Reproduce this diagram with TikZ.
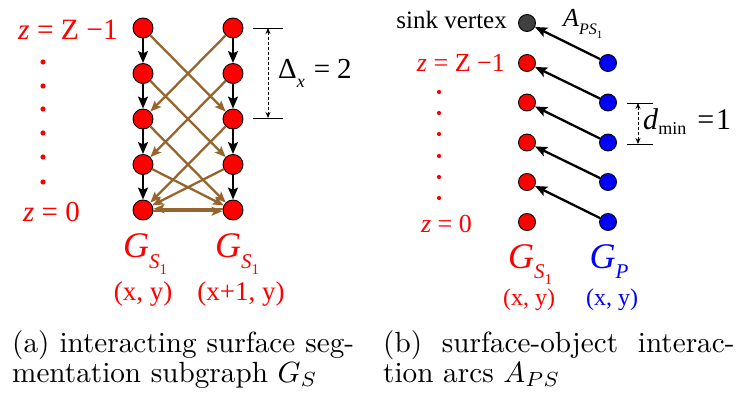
\documentclass[tikz,border=0pt]{standalone}
\usepackage{fontspec}
\newfontfamily\tms{Liberation Serif}
\usetikzlibrary{arrows.meta}
\definecolor{brn}{RGB}{150,100,45}
\definecolor{sinkc}{RGB}{64,64,64}
\newcommand{\fs}[1]{\fontsize{#1}{#1}\selectfont}
\newcommand{\capln}[2]{\scalebox{2.92}{\fontsize{10}{12}\selectfont\makebox[#1][s]{#2}}}
\newcommand{\capnat}[1]{\scalebox{2.92}{\fontsize{10}{12}\selectfont #1}}
\begin{document}
\begin{tikzpicture}[x=1pt,y=-1pt,
  vbig/.style={circle,draw=black,fill=red,line width=0.9pt,minimum size=20pt,inner sep=0pt},
  vsm/.style={circle,draw=black,fill=red,line width=0.9pt,minimum size=17pt,inner sep=0pt},
  vblue/.style={vsm,fill=blue},
  vsink/.style={vsm,fill=sinkc},
  blk/.style={draw=black,line width=2.3pt,-{Stealth[length=12pt,width=10pt,inset=2.5pt]}},
  brw/.style={draw=brn,line width=2.3pt,-{Stealth[length=11pt,width=9pt,inset=2.5pt]}},
  dimln/.style={draw=black,line width=0.9pt},
  dimarr/.style={draw=black,line width=0.8pt,dashed,dash pattern=on 3pt off 2pt,{Stealth[length=6pt,width=5pt]}-{Stealth[length=6pt,width=5pt]}},
  lbl/.style={inner sep=0pt,font=\tms},
  capn/.style={inner sep=0pt,anchor=base west},
  rdot/.style={fill=red}]
\useasboundingbox (0,0) rectangle (736,398);

% ---------- panel (a) ----------
\foreach \i/\yy in {0/28,1/73.5,2/119,3/164.5,4/210}{
  \node[vbig] (L\i) at (143,\yy) {};
  \node[vbig] (R\i) at (233,\yy) {};
}
\foreach \i/\j in {0/1,1/2,2/3,3/4}{
  \draw[blk] (L\i) -- (L\j);
  \draw[blk] (R\i) -- (R\j);
}
\foreach \i/\j in {0/2,1/3,2/4,3/4}{
  \draw[brw] (L\i) -- (R\j);
  \draw[brw] (R\i) -- (L\j);
}
\draw[brw] ([yshift=-1.2pt]L4.east) -- ([yshift=-1.2pt]R4.west);
\draw[brw] ([yshift=1.2pt]R4.west) -- ([yshift=1.2pt]L4.east);

\node[lbl,red,anchor=base east] (za) at (118,40) {\fs{29.5}\textit{z} = Z −1};
\node[lbl,red,anchor=base east] (z0a) at (80,222) {\fs{29}\textit{z} = 0};
\foreach \yy in {62,86,109,133,157,182}{\fill[rdot] (43,\yy) circle (2.6);}

\coordinate (ta1) at (253,28); \coordinate (ta2) at (283,28);
\coordinate (tb1) at (253,118); \coordinate (tb2) at (283,118);
\draw[dimln] (ta1) -- (ta2);
\draw[dimln] (tb1) -- (tb2);
\coordinate (da) at (268,28); \coordinate (db) at (268,118);
\draw[dimarr] (da) -- (db);
\node[lbl,anchor=base west] (dx) at (278,79) {\fs{29}Δ\raisebox{-0.3em}{\fs{18}\textit{x}}\hspace{9pt}=\hspace{7pt}2};

\node[lbl,red,anchor=base] (ga1) at (145,258) {\fs{36}\textit{G}\raisebox{-0.3em}{\fs{21}\textit{S}\raisebox{-0.25em}{\fs{15}1}}};
\node[lbl,red,anchor=base] (ga2) at (237,258) {\fs{36}\textit{G}\raisebox{-0.3em}{\fs{21}\textit{S}\raisebox{-0.25em}{\fs{15}1}}};
\node[lbl,red,anchor=base] (xa1) at (143,300) {\fs{27}(x, y)};
\node[lbl,red,anchor=base] (xa2) at (241,300) {\fs{27}(x+1, y)};

% ---------- panel (b) ----------
\node[vsink] (S) at (527,23) {};
\foreach \i/\yy in {0/63,1/102.5,2/142.5,3/182,4/222}{
  \node[vsm] (Q\i) at (527,\yy) {};
  \node[vblue] (P\i) at (608,\yy) {};
}
\draw[blk] (P0) -- (S);
\foreach \i/\j in {1/0,2/1,3/2,4/3}{
  \draw[blk] (P\i) -- (Q\j);
}
\node[lbl,anchor=base east] (sv) at (507,29) {\fs{25}sink vertex};
\node[lbl,anchor=base west] (aps) at (563,27) {\fs{26}\textit{A}\raisebox{-0.3em}{\fs{16}\textit{PS}\raisebox{-0.25em}{\fs{11}1}}};
\node[lbl,red,anchor=base east] (zb) at (505,72) {\fs{26}\textit{z} = Z −1};
\node[lbl,red,anchor=base east] (z0b) at (472,233) {\fs{26}\textit{z} = 0};
\foreach \yy in {92,113,134,156,177,198}{\fill[rdot] (439,\yy) circle (2.1);}

\coordinate (tc1) at (627,103); \coordinate (tc2) at (653,103);
\coordinate (td1) at (627,144); \coordinate (td2) at (653,144);
\draw[dimln] (tc1) -- (tc2);
\draw[dimln] (td1) -- (td2);
\coordinate (dc) at (638,103); \coordinate (dd) at (638,144);
\draw[dimarr] (dc) -- (dd);
\node[lbl,anchor=base west] (dm) at (643,130) {\fs{30}\textit{d}\raisebox{-0.15em}{\fs{18}min}\hspace{11pt}=\hspace{2pt}1};

\node[lbl,red,anchor=base] (gb1) at (530,268) {\fs{36}\textit{G}\raisebox{-0.3em}{\fs{21}\textit{S}\raisebox{-0.25em}{\fs{15}1}}};
\node[lbl,blue,anchor=base] (gb2) at (609,268) {\fs{36}\textit{G}\raisebox{-0.3em}{\fs{21}\textit{P}}};
\node[lbl,red,anchor=base] (xb1) at (529,305) {\fs{24}(x, y)};
\node[lbl,blue,anchor=base] (xb2) at (612,305) {\fs{24}(x, y)};

% ---------- captions ----------
\node[capn] (ca1) at (12,352) {\capln{117.1pt}{(a) interacting surface seg-}};
\node[capn] (ca2) at (12,382) {\capnat{mentation subgraph $G_S$}};
\node[capn] (cb1) at (383,352) {\capln{120.3pt}{(b) surface-object interac-}};
\node[capn] (cb2) at (383,382) {\capnat{tion arcs $A_{PS}$}};
\end{tikzpicture}
\end{document}
